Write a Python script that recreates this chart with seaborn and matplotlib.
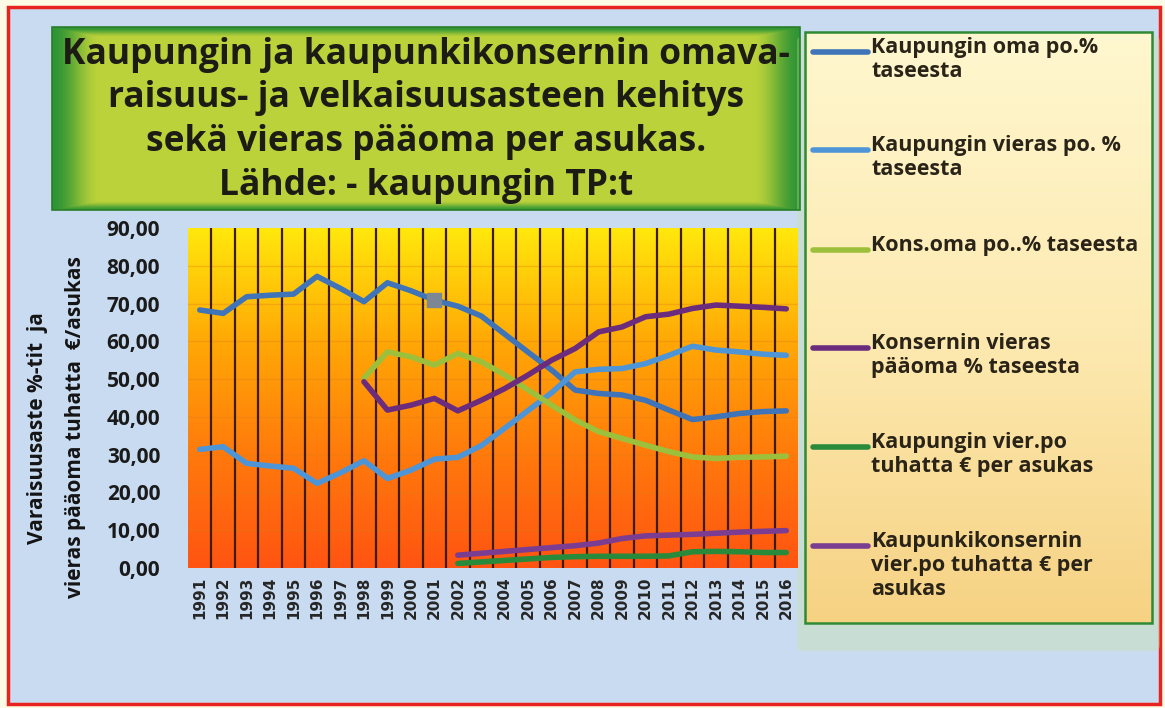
import numpy as np
import pandas as pd
import matplotlib
matplotlib.use("Agg")
import matplotlib.pyplot as plt
import seaborn as sns
from matplotlib.colors import LinearSegmentedColormap, to_rgb
from matplotlib.patches import Rectangle, FancyBboxPatch

years = list(range(1991, 2017))

kaup_oma = [68.3, 67.4, 71.8, 72.2, 72.5, 77.2, 74.0, 70.5, 75.5, 73.4, 70.9, 69.3, 66.7,
            61.9, 57.1, 52.4, 47.1, 46.2, 45.8, 44.4, 41.8, 39.3, 40.0, 40.9, 41.4, 41.6]
kaup_vieras = [31.4, 32.1, 27.7, 27.0, 26.4, 22.4, 25.2, 28.4, 23.7, 25.9, 28.8, 29.3, 32.4,
               37.0, 41.7, 46.4, 51.9, 52.6, 52.8, 54.1, 56.3, 58.7, 57.7, 57.2, 56.6, 56.3]
kons_oma = [None] * 7 + [50.2, 57.2, 55.9, 53.7, 56.8, 54.6, 51.1, 47.1, 43.1, 39.2, 36.1,
                         34.3, 32.5, 30.8, 29.4, 29.0, 29.3, 29.4, 29.6]
kons_vieras = [None] * 7 + [49.3, 41.8, 43.1, 44.9, 41.6, 44.4, 47.5, 51.1, 55.0, 58.1, 62.5,
                            63.8, 66.5, 67.2, 68.7, 69.6, 69.3, 69.0, 68.6]
kaup_per_as = [None] * 11 + [1.2, 1.6, 2.0, 2.4, 2.8, 3.0, 3.1, 3.1, 3.1, 3.2, 4.3, 4.4, 4.3, 4.1, 4.1]
kons_per_as = [None] * 11 + [3.4, 3.9, 4.4, 4.9, 5.4, 5.9, 6.6, 7.8, 8.5, 8.7, 8.9, 9.2, 9.5, 9.7, 9.9]

series_names = [
    "Kaupungin oma po.%\ntaseesta",
    "Kaupungin vieras po. %\ntaseesta",
    "Kons.oma po..% taseesta",
    "Konsernin vieras\npääoma % taseesta",
    "Kaupungin vier.po\ntuhatta € per asukas",
    "Kaupunkikonsernin\nvier.po tuhatta € per\nasukas",
]
series_values = [kaup_oma, kaup_vieras, kons_oma, kons_vieras, kaup_per_as, kons_per_as]
colors = ["#3f74b8", "#4d95d6", "#9cc03c", "#6c2c7e", "#2a8a3c", "#7a3d92"]

title_lines = [
    "Kaupungin ja kaupunkikonsernin omava-",
    "raisuus- ja velkaisuusasteen kehitys",
    "sekä vieras pääoma per asukas.",
    "Lähde: - kaupungin TP:t",
]
ylabel_lines = ["Varaisuusaste %-tit  ja", "vieras pääoma tuhatta  €/asukas"]

sns.set_theme(style="white")
plt.rcParams["font.family"] = ["Open Sans", "DejaVu Sans"]

W, H = 1165, 708
fig = plt.figure(figsize=(W / 100, H / 100), dpi=100)
fig.patch.set_facecolor("#fdfbe6")

# background canvas in pixel coordinates
bg = fig.add_axes([0, 0, 1, 1])
bg.set_axis_off()
bg.add_patch(Rectangle((8, 7), 1152, 697, facecolor="#c9dbf1", edgecolor="#e8231f", lw=2.5))

# title box with green edge gradient
tx0, tx1, ty0, ty1 = 52, 800, 27, 210
tw, th = tx1 - tx0, ty1 - ty0
xx, yy = np.meshgrid(np.arange(tw), np.arange(th))
edge = np.minimum(np.minimum(xx, tw - xx) / 48.0, np.minimum(yy, th - yy) / 10.0)
edge = np.clip(edge, 0, 1)
edge = edge * edge * (3 - 2 * edge)
c_edge = np.array(to_rgb("#2f9534"))
c_mid = np.array(to_rgb("#bcd23a"))
img = c_edge + (c_mid - c_edge) * edge[..., None]
bg.imshow(img, extent=[tx0, tx1, ty1, ty0], aspect="auto", zorder=1)
bg.add_patch(Rectangle((tx0, ty0), tw, th, fill=False, edgecolor="#2a7e2a", lw=1.2, zorder=2))
for i, line in enumerate(title_lines):
    bg.text(426, 55 + i * 43.5, line, ha="center", va="center", fontsize=25.5,
            fontweight="bold", color="#1c1c14", zorder=3)

# legend box
lx0, lx1, ly0, ly1 = 805, 1152, 32, 623
bg.add_patch(FancyBboxPatch((lx0 - 2, ly0 + 10), lx1 - lx0 + 4, ly1 - ly0 + 12,
                            boxstyle="round,pad=6", facecolor="#c8e290", edgecolor="none",
                            alpha=0.3, zorder=1))
lg = np.linspace(0, 1, 200)[:, None]
lcmap = LinearSegmentedColormap.from_list("lg", ["#fff7cf", "#fdeab2", "#f6d283"])
bg.imshow(lg, cmap=lcmap, extent=[lx0, lx1, ly1, ly0], aspect="auto", zorder=2)
bg.add_patch(Rectangle((lx0, ly0), lx1 - lx0, ly1 - ly0, fill=False, edgecolor="#2f8a34",
                       lw=1.8, zorder=3))
entry_y = [52, 150, 250, 348, 447, 546]
for name, col, yy_ in zip(series_names, colors, entry_y):
    bg.plot([813, 868], [yy_, yy_], color=col, lw=4, solid_capstyle="round", zorder=4)
    bg.text(871, yy_ - 15, name, ha="left", va="top", fontsize=15.5, fontweight="bold",
            color="#2a2418", linespacing=1.2, zorder=4)

# y axis label
bg.text(38, 428, ylabel_lines[0], rotation=90, ha="center", va="center", fontsize=15,
        fontweight="bold", color="#141414")
bg.text(76, 427, ylabel_lines[1], rotation=90, ha="center", va="center", fontsize=15,
        fontweight="bold", color="#141414")
bg.set_xlim(0, W)
bg.set_ylim(H, 0)

# plot area
ax = fig.add_axes([188 / W, 1 - 568 / H, 610 / W, 340 / H])
grad = np.linspace(0, 1, 256)[:, None]
pcmap = LinearSegmentedColormap.from_list("pa", ["#ff5412", "#ff7a0c", "#ffa806", "#ffe80c"])
ax.imshow(grad, cmap=pcmap, extent=[-0.5, 25.5, 0, 90], origin="lower", aspect="auto", zorder=0)

for v in range(10, 90, 10):
    ax.axhline(v, color="#e07d18", lw=1, alpha=0.35, zorder=1)
for i in range(len(years) - 1):
    ax.axvline(i + 0.5, color="#3d1c06", lw=1.6, zorder=1)

df = pd.DataFrame({name: vals for name, vals in zip(series_names, series_values)}, dtype=float)
df["idx"] = np.arange(len(years))
long = df.melt(id_vars="idx", var_name="series", value_name="value").dropna()
sns.lineplot(data=long, x="idx", y="value", hue="series", hue_order=series_names,
             palette=dict(zip(series_names, colors)), linewidth=4, legend=False,
             sort=True, ax=ax, zorder=3)
ax.scatter([10], [kaup_oma[10]], marker="s", s=110, color="#7b8794", zorder=4)

ax.set_xlim(-0.5, 25.5)
ax.set_ylim(0, 90)
ax.set_xticks(range(len(years)))
ax.set_xticklabels([str(y) for y in years], rotation=90, fontsize=11, fontweight="bold",
                   family="DejaVu Sans")
ax.set_yticks(range(0, 100, 10))
ax.set_yticklabels([f"{v:.2f}".replace(".", ",") for v in range(0, 100, 10)], fontsize=15,
                   fontweight="bold", color="#1a1a1a")
ax.tick_params(axis="both", length=0)
ax.tick_params(axis="y", pad=20)
ax.tick_params(axis="x", pad=6)
ax.set_xlabel("")
ax.set_ylabel("")
for s in ax.spines.values():
    s.set_visible(False)

fig.savefig("out.png", dpi=100, facecolor=fig.get_facecolor())
